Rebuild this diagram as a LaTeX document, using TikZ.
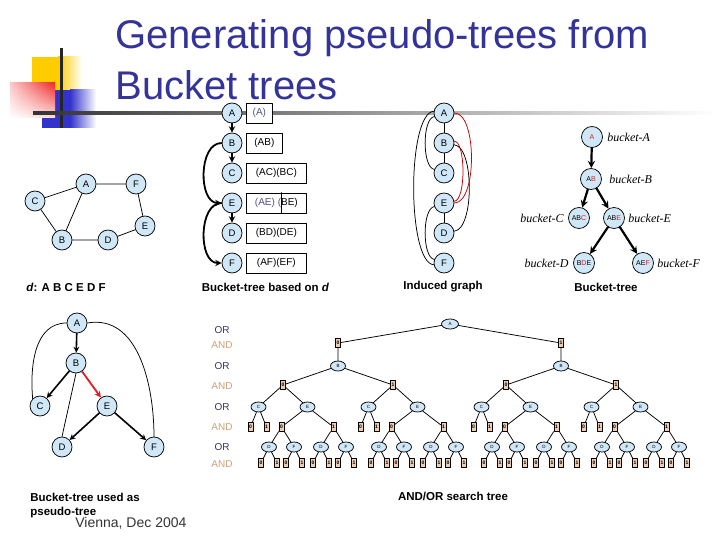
\documentclass[tikz,border=0pt]{standalone}
\usepackage{fontspec}
\setmainfont{Liberation Sans}
\newfontfamily\timesit{Liberation Serif}
\usetikzlibrary{shapes.geometric,shadings}
\definecolor{nodeblue}{RGB}{207,231,247}
\definecolor{andtan}{RGB}{240,205,175}
\definecolor{titleblue}{RGB}{51,51,153}
\definecolor{orblue}{RGB}{51,51,102}
\definecolor{andbrown}{RGB}{205,160,120}
\definecolor{bred}{RGB}{220,30,40}
\definecolor{boxblue}{RGB}{80,80,140}
\definecolor{logoyellow}{RGB}{255,204,0}
\definecolor{logoblue}{RGB}{51,51,204}
\definecolor{logored}{RGB}{240,40,40}
\begin{document}
\begin{tikzpicture}[x=1pt,y=1pt,line width=.75pt,line join=round,line cap=round,>=stealth,
  var/.style={circle,draw,fill=nodeblue,minimum size=20pt,inner sep=0pt,font=\fontsize{9.5}{9.5}\selectfont},
  bvar/.style={var,minimum size=21pt,font=\fontsize{7}{7}\selectfont},
  bkt/.style={draw,fill=white,minimum height=20pt,inner sep=0pt,anchor=west,font=\fontsize{10}{10}\selectfont},
  tarr/.style={->,line width=1.8pt},
  capt/.style={font=\bfseries\fontsize{11.5}{12}\selectfont},
  bname/.style={inner sep=0pt,font=\timesit\itshape\fontsize{12}{12}\selectfont},
  ornode/.style={ellipse,draw,fill=nodeblue,minimum width=15pt,minimum height=10pt,inner sep=0pt,font=\fontsize{4.5}{4.5}\selectfont},
  andnode/.style={rectangle,draw,fill=andtan,minimum width=5pt,minimum height=9pt,inner sep=0pt,font=\bfseries\fontsize{5}{5}\selectfont},
  lvl/.style={font=\fontsize{10}{10}\selectfont}]
\useasboundingbox (0,0) rectangle (720,-540);
% logo and rule
\fill[logoyellow] (32,-57) rectangle (58,-100);
\shade[left color=logoyellow,right color=white] (58,-57) rectangle (82,-100);
\fill[logoblue] (42,-90) rectangle (70,-128);
\shade[left color=logoblue,right color=white] (70,-90) rectangle (96,-128);
\shade[upper left=logored!25,upper right=logored,lower left=white,lower right=logored!15] (10,-83) rectangle (55,-118);
\draw[line width=3pt,black!85,line cap=butt] (61,-48) -- (61,-128);
\shade[left color=black!80,right color=white] (33,-111.5) rectangle (715,-114.5);
\node[anchor=base west,inner sep=0pt,text=titleblue,font=\fontsize{40}{40}\selectfont] (title) at (115,-49) {Generating pseudo-trees from};
\node[anchor=base west,inner sep=0pt,text=titleblue,font=\fontsize{40}{40}\selectfont] (title2) at (115,-100) {Bucket trees};
% original graph
\node[var] (oA) at (86,-184) {A};
\node[var] (oF) at (136,-184) {F};
\node[var] (oC) at (35,-201) {C};
\node[var] (oE) at (145,-226) {E};
\node[var] (oB) at (62,-240) {B};
\node[var] (oD) at (108,-240) {D};
\draw (oC) -- (oA) -- (oF) -- (oE) -- (oD) -- (oB) -- (oC) (oA) -- (oB);
\node[capt] (ordd) at (66,-287) {\textit{d}: A B C E D F};
% buckets along d
\node[var] (sA) at (232,-113) {A};
\node[var] (sB) at (232,-143) {B};
\node[var] (sC) at (232,-173) {C};
\node[var] (sE) at (232,-203) {E};
\node[var] (sD) at (232,-233) {D};
\node[var] (sF) at (232,-263) {F};
\node[bkt,minimum width=26pt] (kA) at (246,-113) {\textcolor{boxblue}{(A)}};
\node[bkt,minimum width=36pt] (kB) at (246,-143) {(AB)};
\node[bkt,minimum width=60pt] (kC) at (246,-173) {(AC)(BC)};
\node[bkt,minimum width=60pt] (kE) at (246,-203) {\textcolor{boxblue}{(AE) (}BE)};
\node[bkt,minimum width=60pt] (kD) at (246,-233) {(BD)(DE)};
\node[bkt,minimum width=60pt] (kF) at (246,-263) {(AF)(EF)};
\draw ([xshift=35pt]kE.north west) -- ([xshift=35pt]kE.south west);
\draw[tarr] (sA) -- (sB);
\draw[tarr] (sB) -- (sC);
\draw[tarr] (sE) -- (sD);
\draw[tarr] (sB.west) to[out=180,in=180] (sE.west);
\draw[tarr] (sE.west) to[out=180,in=180] (sF.west);
\node[capt] (capk) at (265.5,-287) {Bucket-tree based on \textit{d}};
% induced graph
\node[var] (gA) at (444,-113) {A};
\node[var] (gB) at (444,-143) {B};
\node[var] (gC) at (444,-173) {C};
\node[var] (gE) at (444,-203) {E};
\node[var] (gD) at (444,-233) {D};
\node[var] (gF) at (444,-263) {F};
\draw (gA) -- (gB) -- (gC) (gE) -- (gD);
\draw (gA.200) to[out=190,in=170,looseness=.6] (gC.160);
\draw (gA.170) to[out=185,in=175,looseness=.45] (gF.190);
\draw (gE.200) to[out=190,in=170,looseness=.6] (gF.160);
\draw (gB.-10) to[out=-5,in=5,looseness=.6] (gD.10);
\draw[red!75!black] (gA.east) to[out=0,in=0,looseness=.65] (gE.east);
\draw[red!75!black] (gB.10) to[out=0,in=0,looseness=.5] (gE.10);
\node[capt] (capg) at (443,-287) {Induced graph};
% bucket tree
\node[bvar] (tA) at (592,-137) {\textcolor{bred}{A}};
\node[bvar] (tAB) at (591,-179) {A\textcolor{bred}{B}};
\node[bvar] (tABC) at (579,-218) {AB\textcolor{bred}{C}};
\node[bvar] (tABE) at (614,-218) {AB\textcolor{bred}{E}};
\node[bvar] (tBDE) at (584,-263) {B\textcolor{bred}{D}E};
\node[bvar] (tAEF) at (643,-263) {AE\textcolor{bred}{F}};
\draw[tarr,line width=2.2pt] (tA) -- (tAB);
\draw[tarr,line width=2.2pt] (tAB) -- (tABC);
\draw[tarr,line width=2.2pt] (tAB) -- (tABE);
\draw[tarr,line width=2.2pt] (tABE) -- (tBDE);
\draw[tarr,line width=2.2pt] (tABE) -- (tAEF);
\node[bname,anchor=west] (nA) at (607,-137) {bucket-A};
\node[bname,anchor=west] (nB) at (609,-179) {bucket-B};
\node[bname,anchor=east] (nC) at (564,-218) {bucket-C};
\node[bname,anchor=west] (nE) at (628,-218) {bucket-E};
\node[bname,anchor=east] (nD) at (569,-263) {bucket-D};
\node[bname,anchor=west] (nF) at (657,-263) {bucket-F};
\node[capt] (capt) at (606,-287) {Bucket-tree};
% pseudo tree
\node[var] (pA) at (77,-323) {A};
\node[var] (pB) at (76,-363) {B};
\node[var] (pC) at (40,-406) {C};
\node[var] (pE) at (107,-406) {E};
\node[var] (pD) at (62,-447) {D};
\node[var] (pF) at (154,-447) {F};
\draw (pA.west) to[out=180,in=95] (pC.north west);
\draw (pA.east) to[out=10,in=90] (pF.north);
\draw (pB.south) -- (pD.north);
\draw[tarr,line width=1.6pt] (pA) -- (pB);
\draw[tarr,line width=1.6pt] (pB) -- (pC);
\draw[tarr,line width=1.8pt,bred] (pB) -- (pE);
\draw[tarr,line width=1.6pt] (pE) -- (pD);
\draw[tarr,line width=1.6pt] (pE) -- (pF);
\node[capt,anchor=base west,inner sep=0pt] (capp) at (30,-501) {Bucket-tree used as};
\node[capt,anchor=base west,inner sep=0pt] (capp2) at (30,-515) {pseudo-tree};
\node[anchor=base west,inner sep=0pt,text=black!80,font=\fontsize{14}{14}\selectfont] (venue) at (75,-527) {Vienna, Dec 2004};
% level labels
\foreach \y in {330,366,407,447}
  \node[lvl,text=orblue] (or\y) at (222,-\y) {OR};
\foreach \y in {345,386,427,464}
  \node[lvl,text=andbrown] (and\y) at (222,-\y) {AND};
% AND/OR search tree
\node[ornode,minimum width=17pt] (r) at (450,-324) {A};
\foreach \i/\bx in {0/338,1/561}{
  \node[andnode] (a\i) at (\bx,-343) {\i};
  \node[ornode] (b\i) at (\bx,-366) {B};
  \draw (r) -- (a\i) (a\i) -- (b\i);
  \foreach \j in {0,1}{
    \pgfmathsetmacro\ax{\bx+110*\j-55}
    \node[andnode] (a\i\j) at (\ax,-385) {\j};
    \node[ornode] (c\i\j) at (\ax-24.5,-407) {C};
    \node[ornode] (e\i\j) at (\ax+24.5,-407) {E};
    \draw (b\i) -- (a\i\j) (a\i\j) -- (c\i\j) (a\i\j) -- (e\i\j);
    \foreach \k in {0,1}{
      \pgfmathsetmacro\cx{\ax-24.5+16*\k-8}
      \node[andnode] (ca\i\j\k) at (\cx,-427) {\k};
      \draw (c\i\j) -- (ca\i\j\k);
      \pgfmathsetmacro\ex{\ax+24.5+52*\k-26}
      \node[andnode] (ea\i\j\k) at (\ex,-427) {\k};
      \node[ornode] (d\i\j\k) at (\ex-12.5,-447) {D};
      \node[ornode] (f\i\j\k) at (\ex+12.5,-447) {F};
      \draw (e\i\j) -- (ea\i\j\k) (ea\i\j\k) -- (d\i\j\k) (ea\i\j\k) -- (f\i\j\k);
      \foreach \m in {0,1}{
        \node[andnode] (da\i\j\k\m) at (\ex-12.5+16*\m-8,-463) {\m};
        \node[andnode] (fa\i\j\k\m) at (\ex+12.5+16*\m-8,-463) {\m};
        \draw (d\i\j\k) -- (da\i\j\k\m) (f\i\j\k) -- (fa\i\j\k\m);
      }
    }
  }
}
\node[capt] (capo) at (453,-496) {AND/OR search tree};
\end{tikzpicture}
\end{document}
